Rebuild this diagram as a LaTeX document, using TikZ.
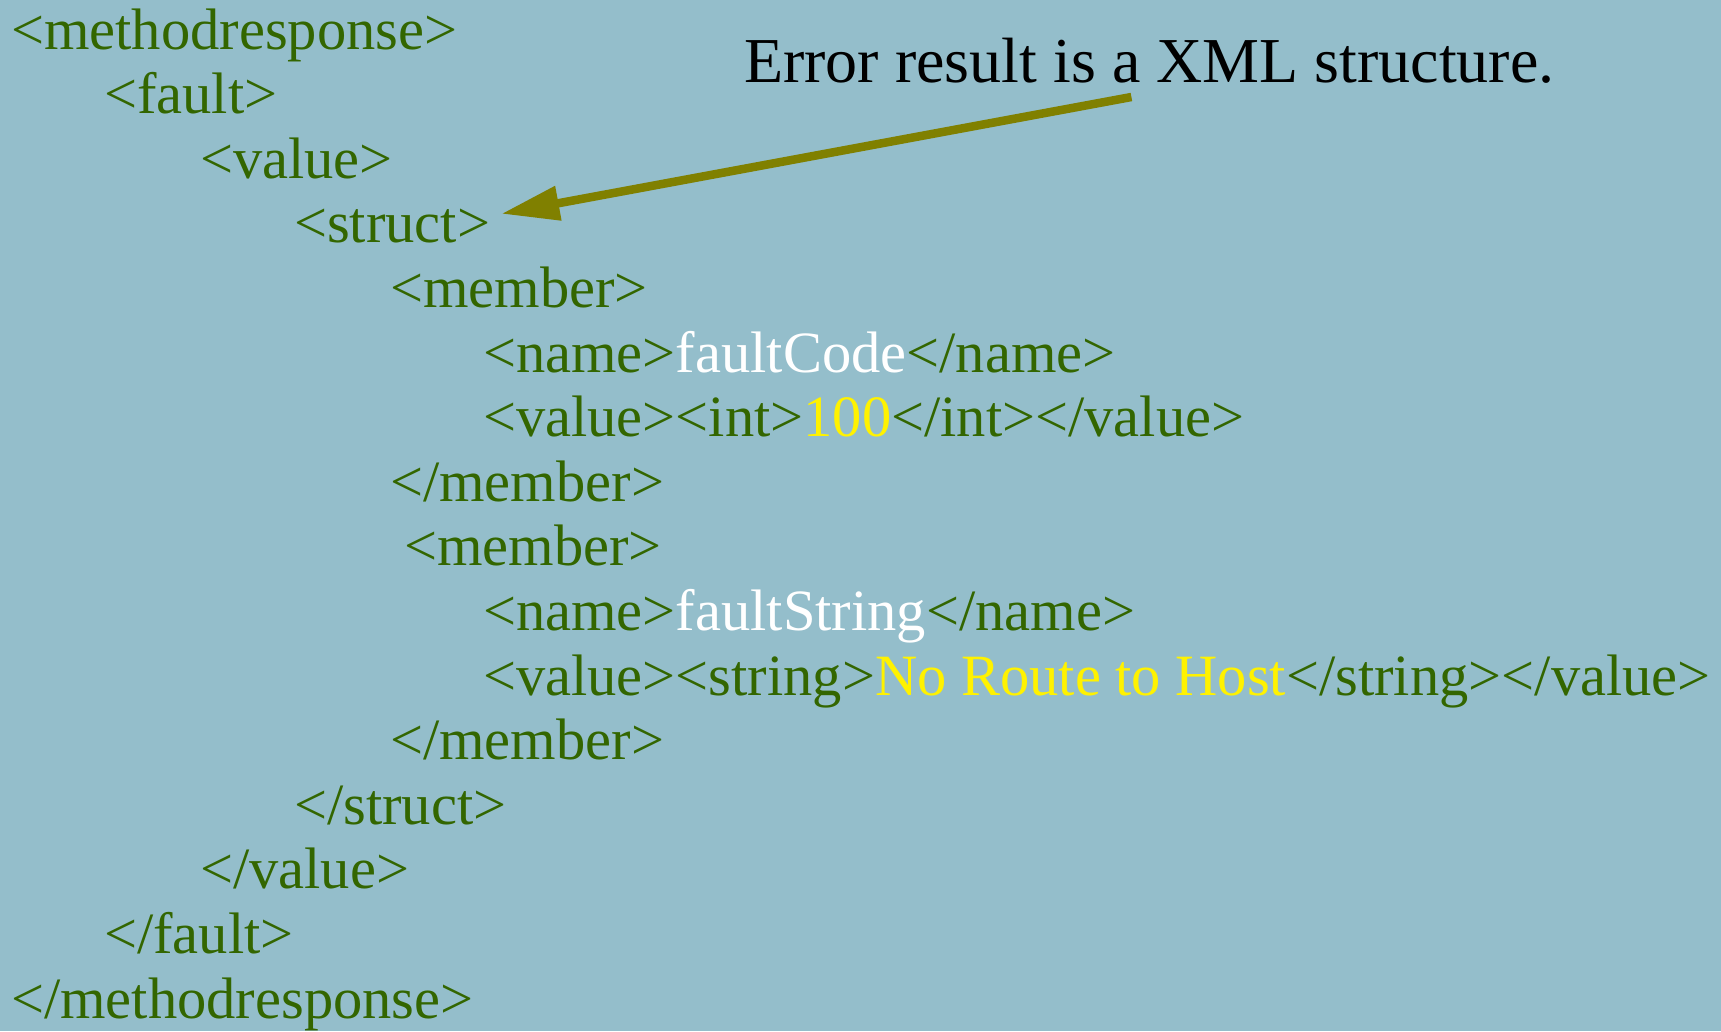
\documentclass[tikz,border=0pt]{standalone}
\usepackage{fontspec}
\setmainfont{Liberation Serif}
\usetikzlibrary{arrows.meta}

\definecolor{slidebg}{RGB}{148,190,203}
\definecolor{tagtext}{RGB}{51,102,0}
\definecolor{pointer}{RGB}{128,128,0}

\tikzset{
  xmlline/.style={anchor=base west, inner sep=0pt, text=tagtext,
    font=\fontsize{58.5}{64}\selectfont},
  notetext/.style={anchor=base west, inner sep=0pt, text=black,
    font=\fontsize{64}{70}\selectfont},
  notearrow/.style={draw=pointer, line width=8.5pt,
    -{Triangle[length=58pt,width=33pt]}}
}
\newcommand{\fname}[1]{\textcolor{white}{#1}}
\newcommand{\fval}[1]{\textcolor{yellow}{#1}}

\begin{document}
\begin{tikzpicture}[x=1pt,y=-1pt]
    \fill[slidebg] (0,0) rectangle (1721,1031);
    \useasboundingbox (0,0) rectangle (1721,1031);
    % the fault response
    \node[xmlline] (mresp)   at (11,49)     {<methodresponse>};
    \node[xmlline] (fault)   at (104,113.6) {<fault>};
    \node[xmlline] (value)   at (200,178.2) {<value>};
    \node[xmlline] (struct)  at (294,242.8) {<struct>};
    \node[xmlline] (memone)  at (390,307.4) {<member>};
    \node[xmlline] (nameone) at (483,372)   {<name>\fname{faultCode}</name>};
    \node[xmlline] (valone)  at (483,436.6) {<value><int>\fval{100}</int></value>};
    \node[xmlline] (endmemone) at (390,501.2) {</member>};
    \node[xmlline] (memtwo)  at (404,565.8) {<member>};
    \node[xmlline] (nametwo) at (483,630.4) {<name>\fname{faultString}</name>};
    \node[xmlline] (valtwo)  at (483,695)   {<value><string>\fval{No Route to Host}</string></value>};
    \node[xmlline] (endmemtwo) at (390,759.6) {</member>};
    \node[xmlline] (endstruct) at (294,824.2) {</struct>};
    \node[xmlline] (endvalue)  at (200,888.8) {</value>};
    \node[xmlline] (endfault)  at (104,953.4) {</fault>};
    \node[xmlline] (endmresp)  at (11,1018)   {</methodresponse>};
    % the note
    \node[notetext] (note) at (744,82) {Error result is a XML structure.};
    \draw[notearrow] ([xshift=-18pt,yshift=-15pt]note.base)
        -- ([xshift=11pt,yshift=29pt]struct.base east);
\end{tikzpicture}
\end{document}
